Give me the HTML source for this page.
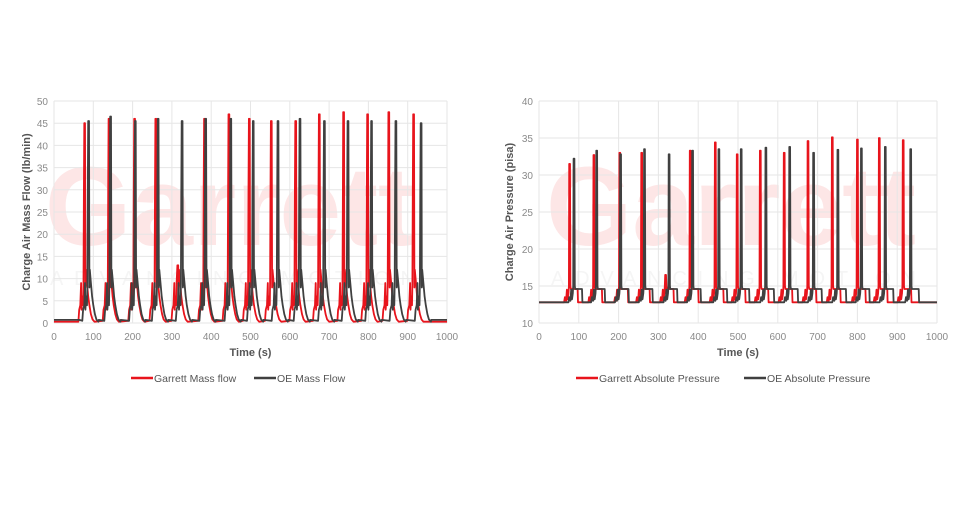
<!DOCTYPE html>
<html><head><meta charset="utf-8"><style>
body{margin:0;background:#fff;font-family:"Liberation Sans",sans-serif}
svg text{font-family:"Liberation Sans",sans-serif}
</style></head><body>
<svg id="s" width="960" height="500" viewBox="0 0 960 500"></svg>
<script>
// Mass flow chart data
const mfGarrettPeakTimes=[78,140,205,259,315,383,445,497,553,615,675,737,798,852,915];
const mfGarrettPeakValues=[45,46,46,46,13,46,47,46,45.5,45.5,47,47.5,47,47.5,47];
const mfOEPeakTimes=[88,144,207,265,326,386,450,507,570,626,688,748,808,870,934];
const mfOEPeakValues=[45.5,46.5,45.5,46,45.5,46,46,45.5,45.5,46,45.5,45.5,45.5,45.5,45];
// Pressure chart data
const prGarrettPeakTimes=[77,138,203,258,318,380,443,498,556,616,676,737,800,855,915];
const prGarrettPeakValues=[31.5,32.7,33,33,16.5,33.3,34.4,32.8,33.3,33,34.6,35.1,34.8,35,34.7];
const prOEPeakTimes=[88,145,205,265,327,386,452,508,570,630,690,751,810,870,934];
const prOEPeakValues=[32.2,33.3,32.8,33.5,32.8,33.3,33.5,33.5,33.7,33.8,33,33.4,33.6,33.8,33.5];
const xTicks=[0,100,200,300,400,500,600,700,800,900,1000];
const mfYTicks=[0,5,10,15,20,25,30,35,40,45,50];
const prYTicks=[10,15,20,25,30,35,40];

// cycle shape templates: [dt, value] where value "P" = peak
const mfShape=[[-16,0.5],[-14,3],[-11,4],[-9,9],[-8,3],[-6,6],[-4,4],[-3,9],[-2,30],[-1,'P'],[0,40],[1,'P'],[2,8],[3,12],[6,9],[9,6],[12,4],[16,2],[20,0.8],[25,0.3]];
const prShape=[[-14,12.8],[-12,13.5],[-9,13],[-7,14.5],[-5,13.2],[-3,14],[-2,15],[-1,'P'],[0,30],[1,'P'],[2,15],[3,14.6],[20,14.6],[21,12.8]];

const svg=document.getElementById('s');const NS='http://www.w3.org/2000/svg';
function mk(t,a,p){const e=document.createElementNS(NS,t);for(const k in a)e.setAttribute(k,a[k]);(p||svg).appendChild(e);return e;}

function chart(cfg){
  const g=mk('g',{});
  
  
  const X=v=>cfg.x0+(cfg.x1-cfg.x0)*v/1000;
  const Y=v=>cfg.y0-(cfg.y0-cfg.y1)*(v-cfg.ymin)/(cfg.ymax-cfg.ymin);
  const wm=mk('text',{x:cfg.wx,y:245,'font-size':112,'font-weight':'bold',fill:'#fde6e6',textLength:370,lengthAdjust:'spacingAndGlyphs'},g);
  wm.textContent='Garrett';
  
  
  const wm2=mk('text',{x:cfg.wx+5,y:285,'font-size':20,fill:'#f5f5f5',textLength:365,lengthAdjust:'spacing'},g);
  wm2.textContent='ADVANCING MOTION';
  
  
  xTicks.forEach(t=>{
    mk('line',{x1:X(t),x2:X(t),y1:cfg.y1,y2:cfg.y0,stroke:'#e6e6e6'},g);
    const tx=mk('text',{x:X(t),y:cfg.y0+17,'text-anchor':'middle','font-size':10,fill:'#8a8a8a'},g);
    tx.textContent=t;
    
    
  });
  cfg.yt.forEach(t=>{
    mk('line',{x1:cfg.x0,x2:cfg.x1,y1:Y(t),y2:Y(t),stroke:'#e6e6e6'},g);
    const ty=mk('text',{x:cfg.x0-6,y:Y(t)+4,'text-anchor':'end','font-size':10,fill:'#8a8a8a'},g);
    ty.textContent=t;
    
    
  });
  function series(times,vals,shape,base,start,end,color,nm){
    const pts=[[0,base],[start,base]];
    times.forEach((t,i)=>{
      let last=pts[pts.length-1][0];
      shape.forEach(([dt,v])=>{const tt=t+dt;if(tt>last){pts.push([tt,v==='P'?vals[i]:(typeof v==='number'&&v>=30&&v>vals[i]?vals[i]*0.85:v)]);last=tt;}});
      pts.push([last+1,base]);
    });
    pts.push([end,base],[1000,base]);
    const d=pts.map((p,i)=>(i?'L':'M')+X(p[0]).toFixed(1)+' '+Y(p[1]).toFixed(1)).join('');
    const pa=mk('path',{d:d,fill:'none',stroke:color,'stroke-width':1.8,'stroke-linejoin':'round'},g);
    
    
  }
  series(cfg.gt,cfg.gv,cfg.shape,cfg.baseG,cfg.startG,960,'#e8141c','garrett-series');
  series(cfg.ot,cfg.ov,cfg.shape,cfg.baseO,cfg.startO,962,'#404040','oe-series');
  const xt=mk('text',{x:(cfg.x0+cfg.x1)/2,y:cfg.y0+33,'text-anchor':'middle','font-size':11,'font-weight':'bold',fill:'#555'},g);
  xt.textContent='Time (s)';
  
  
  const yc=(cfg.y0+cfg.y1)/2;
  const yt=mk('text',{x:cfg.ytx,y:yc,'text-anchor':'middle','font-size':11,'font-weight':'bold',fill:'#555',transform:`rotate(-90 ${cfg.ytx} ${yc})`},g);
  yt.textContent=cfg.ytitle;
  
  
  cfg.legend.forEach(([lx,col,label])=>{
    const lg=mk('g',{},g);
    
    
    mk('line',{x1:lx,x2:lx+22,y1:378,y2:378,stroke:col,'stroke-width':2.5},lg);
    const lt=mk('text',{x:lx+23,y:382,'font-size':10.5,fill:'#555'},lg);
    lt.textContent=label;
  });
}
chart({name:'mass-flow-chart',x0:54,x1:447,y0:323,y1:101,ymin:0,ymax:50,yt:mfYTicks,wx:45,
  gt:mfGarrettPeakTimes,gv:mfGarrettPeakValues,ot:mfOEPeakTimes,ov:mfOEPeakValues,shape:mfShape,
  baseG:0.3,baseO:0.7,startG:62,startO:64,ytx:30,ytitle:'Charge Air Mass Flow (lb/min)',
  legend:[[131,'#e8141c','Garrett Mass flow'],[254,'#404040','OE Mass Flow']]});
chart({name:'pressure-chart',x0:539,x1:937,y0:323,y1:101,ymin:10,ymax:40,yt:prYTicks,wx:546,
  gt:prGarrettPeakTimes,gv:prGarrettPeakValues,ot:prOEPeakTimes,ov:prOEPeakValues,shape:prShape,
  baseG:12.8,baseO:12.8,startG:60,startO:62,ytx:513,ytitle:'Charge Air Pressure (pisa)',
  legend:[[576,'#e8141c','Garrett Absolute Pressure'],[744,'#404040','OE Absolute Pressure']]});
</script>
</body></html>
